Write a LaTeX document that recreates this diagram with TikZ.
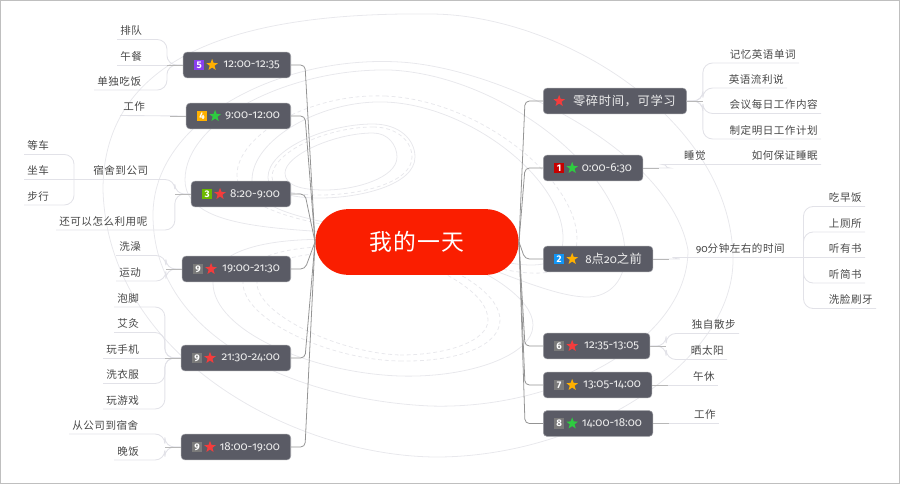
\documentclass[tikz,border=0pt]{standalone}
\usepackage{fontspec}
\usetikzlibrary{positioning,shapes.geometric}
\setmainfont{Fira Sans}[Numbers=OldStyle]
\newfontfamily\cjk{Noto Sans CJK SC}[LetterSpace=5]
\newfontfamily\digitfont{Fira Sans}[Numbers=Lining]
\definecolor{boxgray}{HTML}{5A5B65}
\definecolor{swirl}{HTML}{E8E8EC}
\definecolor{twigline}{HTML}{E2E2E8}
\definecolor{rootred}{HTML}{FA1E00}
\definecolor{badgegray}{HTML}{7A7A7A}
\definecolor{badgepurple}{HTML}{8A3FF0}
\definecolor{badgegreen}{HTML}{6CB800}
\definecolor{badgeblue}{HTML}{1296F5}
\definecolor{badgered}{HTML}{C80000}
\definecolor{starred}{HTML}{F43C3C}
\definecolor{stargold}{HTML}{FFB000}
\definecolor{stargreen}{HTML}{2ECC40}
\tikzset{
  rootpill/.style={fill=rootred,text=white,rounded corners=18.7pt,minimum width=115.7pt,minimum height=37.4pt,inner sep=0pt,font=\cjk\fontsize{13}{13}\selectfont},
  mainbox/.style={fill=boxgray,draw=boxgray!60!white,line width=0.3pt,text=white!93!black,rounded corners=2.2pt,minimum height=14.7pt,inner xsep=6.2pt,inner ysep=0pt,align=right,text width=#1,font=\fontsize{6.6}{7}\selectfont},
  badge/.style={text=white,minimum size=5.9pt,inner sep=0pt,font=\digitfont\bfseries\fontsize{5.5}{5.5}\selectfont},
  starmark/.style={star,star points=5,star point ratio=2.4,minimum size=7pt,inner sep=0pt},
  leaf/.style={inner xsep=1.7pt,inner ysep=0pt,text height=5.5pt,text depth=2.5pt,text=black!72,font=\cjk\fontsize{6}{6}\selectfont},
  leftleaf/.style={leaf,anchor=south west},
  rightleaf/.style={leaf,anchor=south east},
  stem/.style={draw=black!42,line width=0.45pt,rounded corners=2.5pt},
  twig/.style={draw=twigline,line width=0.5pt,rounded corners=5.5pt},
  stub/.style={draw=black!28,line width=0.5pt},
  swirlline/.style={draw=swirl,line width=0.45pt},
  swirldash/.style={swirlline,dash pattern=on 2.2pt off 1.6pt}
}
\begin{document}
\begin{tikzpicture}[x=0.02cm,y=-0.02cm]
\useasboundingbox (0,0) rectangle (900,484);
\draw [black!25,line width=0.8pt] (0.5,0.5) rectangle (899.5,483.5);
% background swirl
\draw [swirlline] (430,14) .. controls (560,14) and (733,120) .. (733,260) .. controls (733,360) and (590,455) .. (440,457) .. controls (300,458) and (108,360) .. (103,190) .. controls (103,50) and (250,12) .. (430,14) -- cycle;
\draw [swirlline] (400,62) .. controls (500,68) and (670,150) .. (688,250) .. controls (688,340) and (560,410) .. (430,406) .. controls (300,400) and (153,340) .. (153,215) .. controls (153,120) and (280,55) .. (400,62) -- cycle;
\draw [swirlline] (390,70) .. controls (500,75) and (625,170) .. (625,255) .. controls (625,285) and (605,298) .. (585,297) .. controls (540,295) and (470,255) .. (400,240) .. controls (330,225) and (185,240) .. (185,180) .. controls (185,120) and (290,68) .. (390,70) -- cycle;
\draw [swirlline] (385,102) .. controls (470,105) and (565,180) .. (563,240) .. controls (562,275) and (520,270) .. (440,245) .. controls (380,225) and (252,225) .. (252,180) .. controls (252,140) and (320,100) .. (385,102) -- cycle;
\draw [swirldash] (385,96) .. controls (480,100) and (578,180) .. (577,240) .. controls (576,285) and (520,280) .. (440,250) .. controls (380,228) and (237,225) .. (237,175) .. controls (237,135) and (310,93) .. (385,96) -- cycle;
\draw [swirlline] (400,376) .. controls (470,378) and (533,355) .. (533,325) .. controls (533,300) and (490,270) .. (440,255) .. controls (380,235) and (213,225) .. (213,283) .. controls (213,330) and (310,373) .. (400,376) -- cycle;
\draw [swirldash] (400,361) .. controls (460,362) and (500,345) .. (500,320) .. controls (500,295) and (460,270) .. (420,258) .. controls (360,240) and (243,240) .. (243,283) .. controls (243,320) and (330,360) .. (400,361) -- cycle;
\draw [swirldash] (400,355) .. controls (450,355) and (488,340) .. (488,320) .. controls (488,295) and (450,275) .. (420,262) .. controls (360,245) and (257,250) .. (257,283) .. controls (257,315) and (340,353) .. (400,355) -- cycle;
\draw [swirlline] (373,124) .. controls (400,124) and (415,140) .. (415,157) .. controls (415,185) and (360,198) .. (320,198) .. controls (290,198) and (268,192) .. (268,177) .. controls (268,150) and (325,124) .. (373,124) -- cycle;
\draw [swirldash] (373,127) .. controls (398,127) and (412,142) .. (412,157) .. controls (412,183) and (360,195) .. (320,195) .. controls (292,195) and (272,190) .. (272,177) .. controls (272,152) and (327,127) .. (373,127) -- cycle;
\draw [swirlline] (373,133) .. controls (388,133) and (397,145) .. (397,157) .. controls (397,178) and (355,190) .. (325,190) .. controls (300,190) and (285,185) .. (285,173) .. controls (285,155) and (335,133) .. (373,133) -- cycle;
% root
\node [rootpill] (root) at (417,242) {我的一天};
% left branches
\node [mainbox=48.8pt,anchor=east] (m5) at (291,65) {12:00-12:35};
\node [mainbox=47.1pt,anchor=east] (m4) at (291,116) {9:00-12:00};
\node [mainbox=44.3pt,anchor=east] (m3) at (291,194) {8:20-9:00};
\node [mainbox=49.4pt,anchor=east] (m19) at (291,269) {19:00-21:30};
\node [mainbox=50pt,anchor=east] (m21) at (291,358) {21:30-24:00};
\node [mainbox=50pt,anchor=east] (m18) at (291,447) {18:00-19:00};
% right branches
\node [mainbox=69.2pt,anchor=west,font=\cjk\fontsize{7}{7}\selectfont] (mstudy) at (543,101) {零碎时间，可学习};
\node [mainbox=44.3pt,anchor=west] (m1) at (543,168) {0:00-6:30};
\node [mainbox=50pt,anchor=west] (m2) at (543,259) {8{\cjk\fontsize{7}{7}\selectfont 点}20{\cjk\fontsize{7}{7}\selectfont 之前}};
\node [mainbox=48.3pt,anchor=west] (m6) at (543,346) {12:35-13:05};
\node [mainbox=49.4pt,anchor=west] (m7) at (543,385) {13:05-14:00};
\node [mainbox=50pt,anchor=west] (m8) at (543,423.5) {14:00-18:00};
% badges and stars
\node [badge,fill=badgepurple] (b5) at ([xshift=9.2pt]m5.west) {5};
\node [starmark,fill=stargold] (s5) at ([xshift=16.6pt]m5.west) {};
\node [badge,fill=stargold] (b4) at ([xshift=9.2pt]m4.west) {4};
\node [starmark,fill=stargreen] (s4) at ([xshift=16.6pt]m4.west) {};
\node [badge,fill=badgegreen] (b3) at ([xshift=9.2pt]m3.west) {3};
\node [starmark,fill=starred] (s3) at ([xshift=16.6pt]m3.west) {};
\node [badge,fill=badgegray] (b19) at ([xshift=9.2pt]m19.west) {9};
\node [starmark,fill=starred] (s19) at ([xshift=16.6pt]m19.west) {};
\node [badge,fill=badgegray] (b21) at ([xshift=9.2pt]m21.west) {9};
\node [starmark,fill=starred] (s21) at ([xshift=16.6pt]m21.west) {};
\node [badge,fill=badgegray] (b18) at ([xshift=9.2pt]m18.west) {9};
\node [starmark,fill=starred] (s18) at ([xshift=16.6pt]m18.west) {};
\node [starmark,fill=starred] (sstudy) at ([xshift=9.2pt]mstudy.west) {};
\node [badge,fill=badgered] (b1) at ([xshift=9.2pt]m1.west) {1};
\node [starmark,fill=stargreen] (s1) at ([xshift=16.6pt]m1.west) {};
\node [badge,fill=badgeblue] (b2) at ([xshift=9.2pt]m2.west) {2};
\node [starmark,fill=stargold] (s2) at ([xshift=16.6pt]m2.west) {};
\node [badge,fill=badgegray] (b6) at ([xshift=9.2pt]m6.west) {6};
\node [starmark,fill=starred] (s6) at ([xshift=16.6pt]m6.west) {};
\node [badge,fill=badgegray] (b7) at ([xshift=9.2pt]m7.west) {7};
\node [starmark,fill=stargold] (s7) at ([xshift=16.6pt]m7.west) {};
\node [badge,fill=badgegray] (b8) at ([xshift=9.2pt]m8.west) {8};
\node [starmark,fill=stargreen] (s8) at ([xshift=16.6pt]m8.west) {};
% stems
\foreach \n in {m5,m4,m3,m19,m21,m18}
  \draw [stem] (\n.east) -- ++(14,0) -- (root.west);
\foreach \n in {mstudy,m1,m2,m6,m7,m8}
  \draw [stem] (\n.west) -- ++(-18,0) -- (root.east);
% left leaves
\node [leftleaf] (c51) at (117,39.5) {排队};
\node [leftleaf] (c52) at (117,65) {午餐};
\node [leftleaf] (c53) at (94,90) {单独吃饭};
\node [leftleaf] (c41) at (120,115.5) {工作};
\node [leftleaf] (c31) at (90,179.5) {宿舍到公司};
\node [leftleaf] (c32) at (56,230) {还可以怎么利用呢};
\node [leftleaf] (c311) at (24,154.5) {等车};
\node [leftleaf] (c312) at (24,179.5) {坐车};
\node [leftleaf] (c313) at (24,205) {步行};
\node [leftleaf] (c191) at (116,255.5) {洗澡};
\node [leftleaf] (c192) at (116,281) {运动};
\node [leftleaf] (c211) at (114,307) {泡脚};
\node [leftleaf] (c212) at (114,332.5) {艾灸};
\node [leftleaf] (c213) at (103,358) {玩手机};
\node [leftleaf] (c214) at (103,383.5) {洗衣服};
\node [leftleaf] (c215) at (103,409) {玩游戏};
\node [leftleaf] (c181) at (69,434) {从公司到宿舍};
\node [leftleaf] (c182) at (114,460) {晚饭};
% right leaves
\node [rightleaf] (cs1) at (799,63) {记忆英语单词};
\node [rightleaf] (cs2) at (787,88) {英语流利说};
\node [rightleaf] (cs3) at (821,113.5) {会议每日工作内容};
\node [rightleaf] (cs4) at (821,139) {制定明日工作计划};
\node [rightleaf] (c11) at (709,164.5) {睡觉};
\node [rightleaf] (c12) at (821,164.5) {如何保证睡眠};
\node [rightleaf] (c21) at (788,257.5) {{\fontspec{Fira Sans}[Numbers=OldStyle]90}分钟左右的时间};
\node [rightleaf] (c211r) at (865,206.5) {吃早饭};
\node [rightleaf] (c212r) at (865,232) {上厕所};
\node [rightleaf] (c213r) at (865,257.5) {听有书};
\node [rightleaf] (c214r) at (865,283) {听简书};
\node [rightleaf] (c215r) at (876,308.5) {洗脸刷牙};
\node [rightleaf] (c61) at (739,333.5) {独自散步};
\node [rightleaf] (c62) at (727,359.5) {晒太阳};
\node [rightleaf] (c71) at (718,385) {午休};
\node [rightleaf] (c81) at (719,423.5) {工作};
% twigs on the left
\draw [twig] (m5.west) -- ++(-16,0) |- (c51.south west);
\draw [twig] (m5.west) -- (c52.south west);
\draw [twig] (m5.west) -- ++(-16,0) |- (c53.south west);
\draw [twig] (m4.west) -- (c41.south west);
\draw [twig] (m3.west) -- ++(-16,0) |- (c31.south west) -- (c312.south west);
\draw [twig] (m3.west) -- ++(-16,0) |- (c32.south west);
\coordinate (j3) at (74,179.5);
\draw [twig] (j3) |- (c311.south west);
\draw [twig] (j3) |- (c313.south west);
\draw [twig] (m19.west) -- ++(-16,0) |- (c191.south west);
\draw [twig] (m19.west) -- ++(-16,0) |- (c192.south west);
\draw [twig] (m21.west) -- ++(-16,0) |- (c211.south west);
\draw [twig] (m21.west) -- ++(-16,0) |- (c212.south west);
\draw [twig] (m21.west) -- (c213.south west);
\draw [twig] (m21.west) -- ++(-16,0) |- (c214.south west);
\draw [twig] (m21.west) -- ++(-16,0) |- (c215.south west);
\draw [twig] (m18.west) -- ++(-16,0) |- (c181.south west);
\draw [twig] (m18.west) -- ++(-16,0) |- (c182.south west);
% twigs on the right
\draw [twig] (mstudy.east) -- ++(16,0) |- (cs1.south east);
\draw [twig] (mstudy.east) -- ++(16,0) |- (cs2.south east);
\draw [twig] (mstudy.east) -- ++(16,0) |- (cs3.south east);
\draw [twig] (mstudy.east) -- ++(16,0) |- (cs4.south east);
\draw [twig] (m1.east) -- ++(17,0) to [out=0,in=180] ++(12,-3.5) -- (c11.south east) -- (c12.south east);
\draw [twig] (m2.east) -- ++(17,0) to [out=0,in=180] ++(12,-1.5) -- (c21.south east) -- (c213r.south east);
\coordinate (j2) at (803.5,257.5);
\draw [twig] (j2) |- (c211r.south east);
\draw [twig] (j2) |- (c212r.south east);
\draw [twig] (j2) |- (c214r.south east);
\draw [twig] (j2) |- (c215r.south east);
\draw [twig] (m6.east) -- ++(16,0) |- (c61.south east);
\draw [twig] (m6.east) -- ++(16,0) |- (c62.south east);
\draw [twig] (m7.east) -- (c71.south east);
\draw [twig] (m8.east) -- (c81.south east);
% stubs
\foreach \n in {m5,m4,m3,m19,m21,m18}
  \draw [stub] (\n.west) -- ++(-16,0);
\foreach \n in {mstudy,m1,m2,m6,m7,m8}
  \draw [stub] (\n.east) -- ++(16,0);
\end{tikzpicture}
\end{document}
